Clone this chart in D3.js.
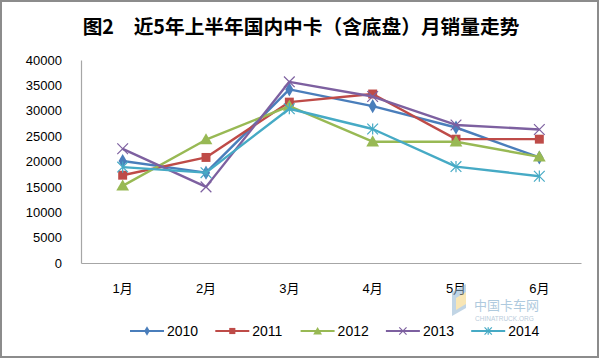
<!DOCTYPE html>
<html><head><meta charset="utf-8">
<script src="https://cdn.jsdelivr.net/npm/d3@7"></script>
<style>body{margin:0;background:#fff}svg{display:block}</style>
</head><body><svg id="c" width="600" height="359"></svg>
<script>
const months = ["1月","2月","3月","4月","5月","6月"];
const years = ["2010","2011","2012","2013","2014"];
const s2010 = [20100,17800,34200,30900,26700,20800];
const s2011 = [17300,20800,31700,33300,24400,24400];
const s2012 = [15200,24300,30900,23900,23900,20900];
const s2013 = [22500,15000,35700,32800,27200,26300];
const s2014 = [18900,17800,30400,26400,19000,17100];
const yTicks = [0,5000,10000,15000,20000,25000,30000,35000,40000];
const colors = ["#4A7EBB","#BE4B48","#98B954","#7D60A0","#46AAC5"];
const shapes = ["diamond","square","triangle","x","star"];
const seriesVals = [s2010,s2011,s2012,s2013,s2014];

const svg = d3.select("#c");
const font = "'Liberation Sans','Noto Sans CJK SC',sans-serif";
svg.append("rect").attr("x",1).attr("y",1).attr("width",597).attr("height",356)
  .attr("fill","#fff").attr("stroke","#8c8c8c").attr("stroke-width",2);

svg.append("text").attr("x",301).attr("y",34).attr("text-anchor","middle")
  .attr("font-family","'Noto Sans CJK SC',sans-serif").attr("font-weight","bold")
  .attr("font-size",19.7).attr("fill","#000")
  .text("图2\u3000近5年上半年国内中卡（含底盘）月销量走势");

const L=81,R=581,T=60,B=263;
const x = d3.scaleBand().domain(months).range([L,R]);
const y = d3.scaleLinear().domain([0,40000]).range([B,T]);

const ya = svg.append("g").attr("transform",`translate(${L},0)`)
  .call(d3.axisLeft(y).tickValues(yTicks).tickSize(0).tickPadding(19).tickFormat(d3.format("d")));
ya.select(".domain").attr("stroke","#a6a6a6").attr("stroke-width",1.2);
ya.selectAll("text").attr("font-family",font).attr("font-size",13).attr("fill","#000");

const xa = svg.append("g").attr("transform",`translate(0,${B})`)
  .call(d3.axisBottom(x).tickSize(0).tickPadding(21));
xa.select(".domain").attr("stroke","#a6a6a6").attr("stroke-width",1.2);
xa.selectAll("text").attr("font-family",font).attr("font-size",13).attr("fill","#000");

function marker(g, shape, color, cx, cy, s){
  if(shape==="diamond"){
    g.append("path").attr("d",d3.symbol(d3.symbolDiamond, s*s*0.9)()).attr("transform",`translate(${cx},${cy})`).attr("fill",color);
  } else if(shape==="square"){
    g.append("path").attr("d",d3.symbol(d3.symbolSquare, s*s*1.25)()).attr("transform",`translate(${cx},${cy})`).attr("fill",color);
  } else if(shape==="triangle"){
    g.append("path").attr("d",d3.symbol(d3.symbolTriangle, s*s*1.1)()).attr("transform",`translate(${cx},${cy+1})`).attr("fill",color);
  } else if(shape==="x"){
    g.append("path").attr("d",d3.symbol(d3.symbolX, s*s*1.2)()).attr("transform",`translate(${cx},${cy})`).attr("fill","none").attr("stroke",color).attr("stroke-width",1.2);
  } else {
    g.append("path").attr("d",d3.symbol(d3.symbolX, s*s*1.2)()).attr("transform",`translate(${cx},${cy})`).attr("fill","none").attr("stroke",color).attr("stroke-width",1.2);
    g.append("line").attr("x1",cx).attr("x2",cx).attr("y1",cy-s*0.7).attr("y2",cy+s*0.7).attr("stroke",color).attr("stroke-width",1.2);
  }
}

const line = d3.line().x((d,i)=>x(months[i])+x.bandwidth()/2).y(d=>y(d));
seriesVals.forEach((vals,k)=>{
  const g = svg.append("g");
  g.append("path").datum(vals).attr("d",line).attr("fill","none")
    .attr("stroke",colors[k]).attr("stroke-width",2.4).attr("stroke-linejoin","round");
  vals.forEach((v,i)=>marker(g,shapes[k],colors[k],x(months[i])+x.bandwidth()/2,y(v),8));
});

const lg = svg.append("g");
years.forEach((yr,k)=>{
  const lx = 130 + k*85.3, ly = 331;
  lg.append("line").attr("x1",lx).attr("x2",lx+34).attr("y1",ly).attr("y2",ly)
    .attr("stroke",colors[k]).attr("stroke-width",2.2);
  marker(lg,shapes[k],colors[k],lx+17,ly,5.5);
  lg.append("text").attr("x",lx+37).attr("y",ly+5).attr("font-family",font)
    .attr("font-size",14).attr("fill","#000").text(yr);
});

// watermark
const wm = svg.append("g").attr("opacity",0.55);
wm.append("path").attr("d","M452,292 L466,284 L466,308 L452,316 Z").attr("fill","#8fb3d0");
wm.append("path").attr("d","M456,298 L466,292 L466,304 L456,310 Z").attr("fill","#f3d27a");
wm.append("text").attr("x",474).attr("y",310).attr("font-family","'Noto Sans CJK SC',serif")
  .attr("font-size",13).attr("fill","#6f9fc4").text("中国卡车网");
wm.append("text").attr("x",475).attr("y",321).attr("font-family",font)
  .attr("font-size",6.5).attr("fill","#7fa3c0").text("CHINATRUCK.ORG");
</script></body></html>
